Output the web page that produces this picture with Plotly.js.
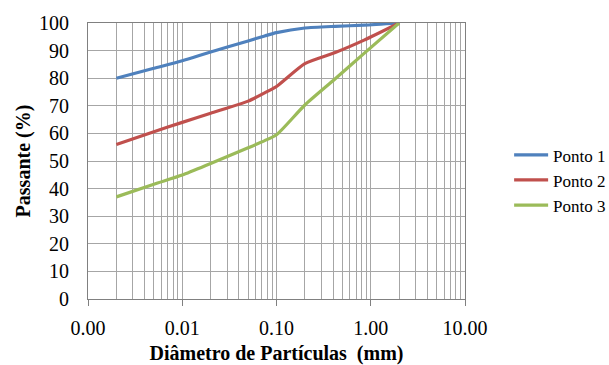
<!DOCTYPE html>
<html>
<head>
<meta charset="utf-8">
<script src="https://cdn.plot.ly/plotly-3.0.1.min.js"></script>
<style>html,body{margin:0;padding:0;background:#fff;}#chart{width:609px;height:365px;}</style>
</head>
<body>
<div id="chart"></div>
<script>
// Particle diameter (mm)
var diameters = [0.002, 0.005, 0.01, 0.02, 0.05, 0.075, 0.1, 0.2, 0.42, 0.85, 2.0];
// Percent passing
var ponto1 = [80, 83.6, 86.3, 89.5, 93.5, 95.3, 96.5, 98.2, 98.8, 99.2, 100];
var ponto2 = [56, 60.6, 64, 67.3, 71.7, 74.7, 77, 85.3, 89.3, 93.8, 100];
var ponto3 = [37, 41.6, 44.9, 49.1, 54.8, 57.4, 59.5, 70.3, 79.8, 89, 100];
var seriesNames = ["Ponto 1", "Ponto 2", "Ponto 3"];
var seriesColors = ["#4F81BD", "#C0504D", "#9BBB59"];
var xTickVals = [0.001, 0.01, 0.1, 1, 10];
var xTickText = ["0.00", "0.01", "0.10", "1.00", "10.00"];

var minorVals = [];
for (var d = 0; d < 4; d++) {
  for (var m = 2; m <= 9; m++) minorVals.push(m * Math.pow(10, d - 3));
}

var allSeries = [ponto1, ponto2, ponto3];
var traces = allSeries.map(function (ys, i) {
  return {
    x: diameters, y: ys, type: "scatter", mode: "lines", name: seriesNames[i],
    line: {color: seriesColors[i], width: 3.2, shape: "spline", smoothing: 0.6}
  };
});

var serif = "Liberation Serif";
var gridC = "#a6a6a6";
var layout = {
  width: 609, height: 365,
  margin: {l: 88, r: 144, t: 23, b: 66},
  paper_bgcolor: "#fff", plot_bgcolor: "#fff",
  font: {family: serif, color: "#000", size: 20},
  showlegend: true,
  legend: {xref: "container", x: 0.836, xanchor: "left", y: 0.43, yanchor: "middle",
    itemwidth: 34,
    font: {family: serif, size: 17, color: "#000"}, bgcolor: "rgba(0,0,0,0)"},
  xaxis: {
    type: "log", range: [-3, 1], automargin: false,
    tickmode: "array", tickvals: xTickVals, ticktext: xTickText,
    showgrid: true, gridcolor: gridC, gridwidth: 1,
    showline: true, linecolor: "#808080", linewidth: 1, mirror: true,
    ticks: "outside", ticklen: 6, tickwidth: 1, tickcolor: "#808080", ticklabelstandoff: 5,
    tickfont: {family: serif, size: 20},
    minor: {tickmode: "array", tickvals: minorVals, showgrid: true, gridcolor: gridC, gridwidth: 1, ticks: ""},
    zeroline: false,
    title: {text: "<b>Diâmetro de Partículas  (mm)</b>", font: {family: serif, size: 20}, standoff: 17}
  },
  yaxis: {
    range: [0, 100], dtick: 10, tick0: 0, automargin: false,
    showgrid: true, gridcolor: gridC, gridwidth: 1,
    showline: true, linecolor: "#808080", linewidth: 1, mirror: true,
    ticks: "", tickfont: {family: serif, size: 20}, ticklabelstandoff: 14,
    zeroline: false,
    title: {text: "<b>Passante (%)</b>", font: {family: serif, size: 20}, standoff: 3}
  }
};

Plotly.newPlot("chart", traces, layout, {staticPlot: true, displayModeBar: false});
</script>
</body>
</html>
